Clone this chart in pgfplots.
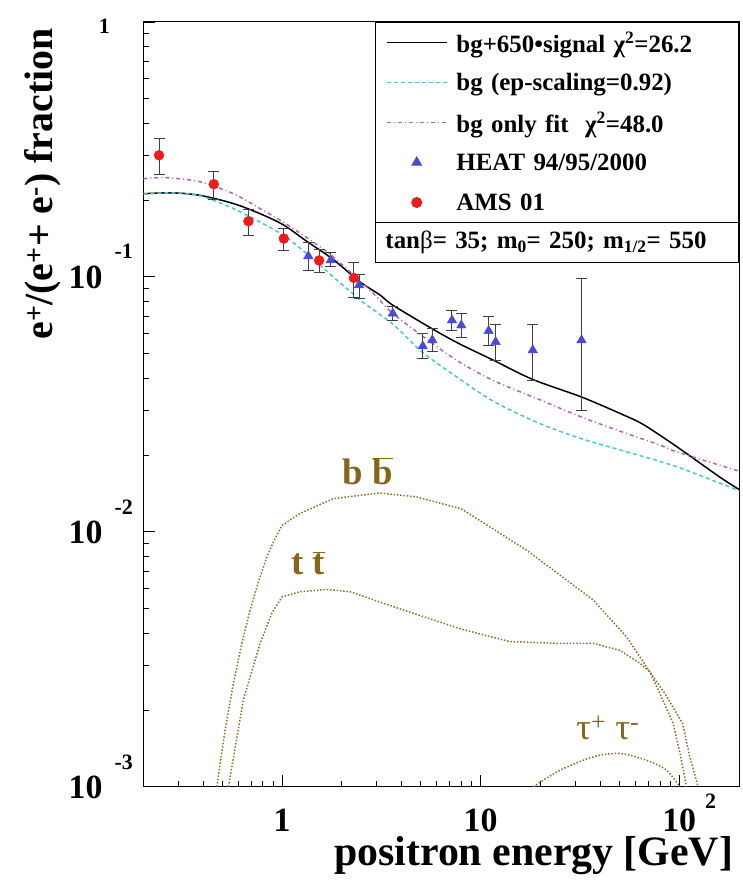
\documentclass[border=0pt]{standalone}
\usepackage{pgfplots}
\pgfplotsset{compat=1.18}
\usepackage{fontspec}
\setmainfont{Liberation Serif}
\definecolor{cyanbg}{RGB}{70,200,205}
\definecolor{magbg}{RGB}{178,98,190}
\definecolor{sigbrown}{RGB}{140,110,40}
\definecolor{labbrown}{RGB}{133,103,28}
\definecolor{heatblue}{RGB}{75,75,210}
\definecolor{amsred}{RGB}{235,28,28}
\newcommand{\TLf}{\fontsize{34}{34}\selectfont\bfseries}
\newcommand{\EXf}{\fontsize{22}{22}\selectfont\bfseries}
\begin{document}
\begin{tikzpicture}
\begin{axis}[
 at={(0,0)}, anchor=south west,
 scale only axis, width=595.7bp, height=764.7bp,
 xmode=log, ymode=log,
 xmin=0.2, xmax=200, ymin=0.001, ymax=1,
 xtick={1,10,100}, ytick={0.001,0.01,0.1,1},
 minor xtick={0.3,0.4,0.5,0.6,0.7,0.8,0.9,2,3,4,5,6,7,8,9,20,30,40,50,60,70,80,90},
 minor ytick={0.002,0.003,0.004,0.005,0.006,0.007,0.008,0.009,0.02,0.03,0.04,0.05,0.06,0.07,0.08,0.09,0.2,0.3,0.4,0.5,0.6,0.7,0.8,0.9},
 xticklabels={{\TLf 1},{\TLf 10},{\TLf 10\rlap{\hspace{9bp}\raisebox{23bp}{\EXf 2}}}},
 yticklabels={{\TLf 10\hspace{12bp}\raisebox{29bp}{\EXf -3}},{\TLf 10\hspace{12bp}\raisebox{29bp}{\EXf -2}},{\TLf 10\hspace{12bp}\raisebox{30bp}{\EXf -1}},{\EXf 1\kern23bp}},
 tick pos=left, tick align=inside,
 major tick length=12bp, minor tick length=6bp,
 tick style={black, line width=0.8bp},
 axis line style={line width=1bp},
 xticklabel style={anchor=base, inner sep=0pt, yshift=-45bp},
 yticklabel style={anchor=base east, inner sep=0pt, xshift=-10.3bp, yshift=-11.3bp},
 every axis x label/.style={at={(axis description cs:0.9961,-0.1024)}, anchor=base east, font=\fontsize{42}{42}\selectfont\bfseries},
 every axis y label/.style={at={(axis description cs:-0.1516,0.996)}, anchor=base east, rotate=90, font=\fontsize{40}{40}\selectfont\bfseries},
 xlabel={positron energy [GeV]},
 ylabel={e\textsuperscript{+}/(e\textsuperscript{+}+ e\textsuperscript{-}) fraction},
 legend cell align=left,
 legend style={at={(1,1)}, anchor=north east, draw=black, line width=1bp, fill=white,
   inner xsep=10bp, inner ysep=0pt, row sep=0pt,
   font=\fontsize{25}{25}\selectfont\bfseries,
   nodes={inner sep=0pt, text width=272bp, minimum height=40bp, anchor=west, align=left},
   /tikz/every odd column/.append style={column sep=9bp}},
 legend image code/.code={\draw[mark repeat=2,mark phase=2,#1] plot coordinates {(0bp,0bp) (30bp,0bp) (60bp,0bp)};},
]
% signal components
\addplot[forget plot, sigbrown, line width=1.5bp, dash pattern=on 1.5bp off 1.8bp] coordinates {
(0.469,0.001) (0.5165,0.00167) (0.569,0.00255) (0.627,0.00365) (0.69,0.00493) (0.760,0.00637) (0.838,0.00798) (0.922,0.00942) (1.0,0.0106)
(1.23,0.0118) (1.81,0.0135) (3.11,0.0142) (4.76,0.0137) (8.0,0.0123) (17.0,0.00848) (36.9,0.0054) (54.3,0.00387) (71,0.00283) (81.3,0.00225) (93.2,0.00177) (101,0.00135) (108.8,0.001)};
\addplot[forget plot, sigbrown, line width=1.5bp, dash pattern=on 1.5bp off 1.8bp] coordinates {
(0.537,0.001) (0.638,0.00219) (0.775,0.00365) (0.887,0.00479) (1.0,0.00556) (1.23,0.00582) (1.68,0.00594) (2.2,0.00582) (3.24,0.00524) (5.78,0.00451) (8.0,0.00415) (14.0,0.00371) (25.1,0.00365) (36.9,0.00365) (50.2,0.00343) (63.4,0.00305) (71,0.00283) (85.6,0.00229) (104,0.00177) (113,0.00131) (124.5,0.001)};
\addplot[forget plot, sigbrown, line width=1.5bp, dash pattern=on 1.5bp off 1.8bp, smooth] coordinates {
(18.4,0.001) (25.1,0.00116) (36.9,0.00131) (50.2,0.00135) (68.4,0.00127) (86.4,0.00116) (100.5,0.001)};
% background + signal
\addplot[black, line width=1.5bp, smooth, tension=0.5] coordinates {
(0.2,0.212) (0.2835,0.2136) (0.387,0.2088) (0.569,0.194) (0.775,0.177) (1.015,0.160) (1.33,0.138) (1.81,0.117) (2.47,0.0955) (3.11,0.0850) (3.61,0.0775) (5.78,0.0622) (7.87,0.0545) (11.6,0.0471) (18.3,0.0396) (32.2,0.0338) (50.5,0.0291) (65.7,0.0264) (97,0.0216) (160,0.0164) (200,0.01466)};
\addlegendentry{bg+650•signal χ\textsuperscript{2}=26.2}
\addplot[cyanbg, line width=1.5bp, dash pattern=on 4bp off 3bp, smooth, tension=0.5] coordinates {
(0.2,0.212) (0.2835,0.2136) (0.387,0.208) (0.569,0.1854) (0.775,0.164) (1.015,0.1457) (1.33,0.1235) (1.81,0.100) (2.29,0.0855) (2.47,0.081) (3.63,0.0650) (5.11,0.0505) (7.87,0.0397) (11.6,0.0325) (19.8,0.0266) (32.2,0.0232) (54.3,0.0206) (97,0.0180) (200,0.0145)};
\addlegendentry{bg (ep-scaling=0.92)}
\addplot[magbg, line width=1.5bp, dash pattern=on 4bp off 3bp on 1bp off 3bp, smooth, tension=0.5] coordinates {
(0.2,0.2427) (0.262,0.245) (0.387,0.236) (0.569,0.212) (0.775,0.1854) (1.015,0.164) (1.395,0.139) (1.81,0.1198) (2.88,0.0861) (3.61,0.0719) (5.78,0.0545) (7.87,0.0462) (11.6,0.0392) (19.8,0.0330) (32.2,0.0282) (54.3,0.0243) (79.9,0.0219) (97,0.0206) (200,0.0173)};
\addlegendentry{bg only fit\ \ χ\textsuperscript{2}=48.0}
% HEAT
\addplot[only marks, mark=triangle*, mark size=5.5bp, color=heatblue, mark options={fill=heatblue, draw=heatblue},
  error bars/.cd, y dir=both, y explicit,
  error bar style={line width=1bp, black!75},
  error mark options={rotate=90, black!75, line width=1bp, mark size=5.5bp}]
 table[x=x, y=y, y error plus=ep, y error minus=em] {
x y ep em
1.356 0.1206 0.0164 0.0146
1.758 0.1163 0.0084 0.0068
2.44 0.0928 0.0092 0.0106
3.61 0.0719 0.0048 0.0047
5.11 0.0535 0.0065 0.0056
5.71 0.0565 0.0062 0.0055
7.17 0.0676 0.0060 0.0058
7.99 0.0646 0.0072 0.0068
10.97 0.0614 0.0083 0.0074
11.9 0.0556 0.0092 0.0086
18.3 0.0516 0.0132 0.0125
32.2 0.0565 0.0421 0.0265
};
\addlegendentry{HEAT 94/95/2000}
% AMS
\addplot[only marks, mark=*, mark size=5bp, color=amsred, mark options={fill=amsred, draw=amsred},
  error bars/.cd, y dir=both, y explicit,
  error bar style={line width=1bp, black!75},
  error mark options={rotate=90, black!75, line width=1bp, mark size=5.5bp}]
 table[x=x, y=y, y error plus=ep, y error minus=em] {
x y ep em
0.24 0.300 0.048 0.047
0.453 0.231 0.027 0.029
0.677 0.1654 0.018 0.020
1.02 0.1414 0.014 0.015
1.536 0.116 0.012 0.012
2.30 0.0991 0.015 0.0164
};
\addlegendentry{AMS 01}
% labels
\node[text=labbrown, font=\fontsize{37}{37}\selectfont\bfseries, inner sep=0pt] at (axis cs:2.71,0.0173) {b $\overline{\hbox{b}}$};
\node[text=labbrown, font=\fontsize{37}{37}\selectfont\bfseries, inner sep=0pt] at (axis cs:1.35,0.00754) {t $\overline{\hbox{t}}$};
\node[text=labbrown, font=\fontsize{37}{37}\selectfont, inner sep=0pt] at (axis cs:43.7,0.0017) {τ\textsuperscript{+} τ\textsuperscript{-}};
\node[draw=black, line width=1bp, fill=white, anchor=north east, minimum height=40bp, text width=343bp, inner xsep=10bp, inner ysep=0pt, align=left, font=\fontsize{25}{25}\selectfont\bfseries] at (rel axis cs:1,0.73846) {tan{\mdseries β}= 35; m\textsubscript{0}= 250; m\textsubscript{1/2}= 550};
\end{axis}
\pgfresetboundingbox
\path[use as bounding box] (-143.3bp,-95.3bp) rectangle (599.7bp,786.7bp);
\end{tikzpicture}
\end{document}
